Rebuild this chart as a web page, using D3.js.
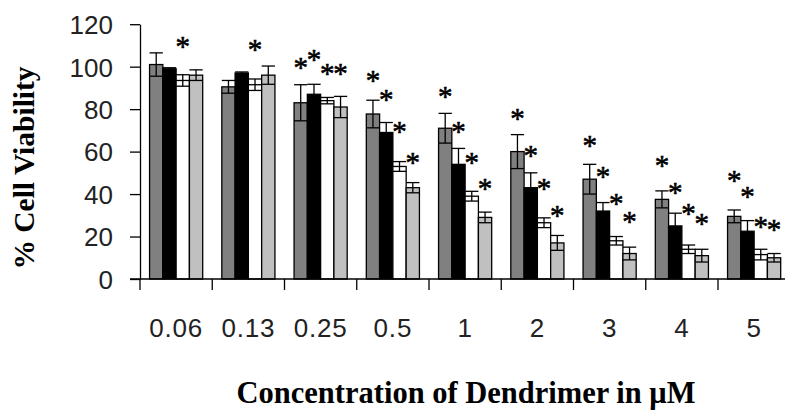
<!DOCTYPE html>
<html>
<head>
<meta charset="utf-8">
<script src="https://cdn.jsdelivr.net/npm/d3@7"></script>
<style>
  html, body { margin: 0; padding: 0; background: #fff; }
  svg { display: block; }
</style>
</head>
<body>
<svg id="chart" width="785" height="413"></svg>
<script>
// ---- data ----
const categories = ["0.06", "0.13", "0.25", "0.5", "1", "2", "3", "4", "5"];
const seriesNames = ["s1", "s2", "s3", "s4"];
const seriesColors = ["#808080", "#000000", "#ffffff", "#c0c0c0"];

const darkGray      = [101, 90.5, 83, 77.7, 71, 60, 47, 37.5, 29.5];
const darkGrayErr   = [5.5, 3, 8.5, 6.5, 7, 8, 7, 4, 3];
const black         = [99, 97, 87, 69, 54, 43, 32, 25, 22.5];
const blackErr      = [0.5, 0.5, 4.7, 4.7, 7.5, 7, 4, 6, 5];
const white         = [93.5, 91.5, 84, 53, 39, 26.5, 18, 14, 11.5];
const whiteErr      = [2.7, 2.7, 1.5, 2.3, 2.3, 2.3, 2, 2, 2.5];
const lightGray     = [96, 96, 81, 43, 29, 17, 12, 11, 10];
const lightGrayErr  = [2.5, 4.3, 5, 2.4, 2.5, 3.5, 3, 3, 2];

// asterisk (significance) marker positions, in axis units; null = none
const sigDark  = [null, null, 101.4, 95.3, 88.1, 77.7, 64.6, 55.2, 48.4];
const sigBlack = [null, null, 105.3, 86.4, 71.2, 59.9, 50.4, 42.9, 41.0];
const sigWhite = [111.6, 110.0, 98.6, 71.2, 57.0, 44.8, 37.4, 32.7, 26.7];
const sigLight = [null, null, 98.6, 57.0, 44.8, 31.9, 28.8, 28.0, 25.2];

const yTicks = [0, 20, 40, 60, 80, 100, 120];
const xTitle = "Concentration of Dendrimer in \u03bcM";
const yTitle = "% Cell Viability";

// ---- build ----
const values = [darkGray, black, white, lightGray];
const errs = [darkGrayErr, blackErr, whiteErr, lightGrayErr];
const sigs = [sigDark, sigBlack, sigWhite, sigLight];

const svg = d3.select("#chart");
const plotLeft = 140, plotBottom = 279, plotTop = 24.2, step = 72.25;

const x0 = d3.scaleBand().domain(categories).range([plotLeft, plotLeft + step * categories.length]).padding(0);
const x1 = d3.scaleBand().domain(seriesNames).range([0, x0.bandwidth()]).paddingInner(0).paddingOuter(0.72);
const y = d3.scaleLinear().domain([0, 120]).range([plotBottom, plotTop]);

const records = [];
categories.forEach((c, i) => {
  seriesNames.forEach((s, j) => {
    records.push({ c, s, j, v: values[j][i], e: errs[j][i], sig: sigs[j][i] });
  });
});

const serif = "'Liberation Serif', 'Times New Roman', serif";
const sans = "'Liberation Sans', Arial, sans-serif";

// bars
svg.append("g").selectAll("rect").data(records).join("rect")
  .attr("x", d => x0(d.c) + x1(d.s))
  .attr("y", d => y(d.v))
  .attr("width", x1.bandwidth())
  .attr("height", d => y(0) - y(d.v))
  .attr("fill", d => seriesColors[d.j])
  .attr("stroke", "#000")
  .attr("stroke-width", 1.3);

// error bars
const eg = svg.append("g").attr("stroke", "#000").attr("stroke-width", 1.3).attr("fill", "none");
records.forEach(d => {
  const cx = x0(d.c) + x1(d.s) + x1.bandwidth() / 2;
  const hw = x1.bandwidth() / 2;
  eg.append("line").attr("x1", cx).attr("x2", cx).attr("y1", y(d.v + d.e)).attr("y2", y(d.v - d.e));
  eg.append("line").attr("x1", cx - hw).attr("x2", cx + hw).attr("y1", y(d.v + d.e)).attr("y2", y(d.v + d.e));
  eg.append("line").attr("x1", cx - hw).attr("x2", cx + hw).attr("y1", y(d.v - d.e)).attr("y2", y(d.v - d.e));
});

// asterisks
const astSize = 29;
svg.append("g").selectAll("text").data(records.filter(d => d.sig !== null)).join("text")
  .attr("x", d => x0(d.c) + x1(d.s) + x1.bandwidth() / 2)
  .attr("y", d => y(d.sig) + astSize * 0.47)
  .attr("text-anchor", "middle")
  .attr("font-family", serif)
  .attr("font-size", astSize)
  .attr("fill", "#000")
  .attr("stroke", "#000")
  .attr("stroke-width", 0.6)
  .text("*");

// y axis
const yAxis = d3.axisLeft(y).tickValues(yTicks).tickSize(10).tickPadding(17).tickSizeOuter(0);
const yg = svg.append("g").attr("transform", `translate(${plotLeft},0)`).call(yAxis);
yg.select(".domain").attr("stroke", "#000").attr("stroke-width", 1.3);
yg.selectAll(".tick line").attr("stroke", "#000").attr("stroke-width", 1.3);
yg.selectAll(".tick text").attr("font-family", sans).attr("font-size", 26).attr("fill", "#222").attr("dy", "0.36em");

// x axis (labels only; ticks at category boundaries)
const xAxis = d3.axisBottom(x0).tickSize(0).tickPadding(58).tickSizeOuter(0);
const xg = svg.append("g").attr("transform", `translate(0,${plotBottom})`).call(xAxis);
xg.select(".domain").remove();
xg.selectAll(".tick text").attr("font-family", sans).attr("font-size", 26)
  .attr("letter-spacing", 0.8).attr("fill", "#222").attr("dy", "0");
xg.append("line").attr("x1", plotLeft - 10).attr("x2", 785).attr("y1", 0).attr("y2", 0)
  .attr("stroke", "#000").attr("stroke-width", 1.3);
const bounds = categories.map(c => x0(c)).concat([x0(categories[categories.length - 1]) + x0.bandwidth()]);
xg.selectAll("line.bt").data(bounds).join("line").attr("class", "bt")
  .attr("x1", d => d).attr("x2", d => d).attr("y1", 0).attr("y2", 11)
  .attr("stroke", "#000").attr("stroke-width", 1.3);

// titles
svg.append("text")
  .attr("x", 466).attr("y", 403)
  .attr("text-anchor", "middle")
  .attr("font-family", serif).attr("font-weight", "bold").attr("font-size", 30.5)
  .text(xTitle);

svg.append("text")
  .attr("transform", "translate(34,168) rotate(-90)")
  .attr("text-anchor", "middle")
  .attr("font-family", serif).attr("font-weight", "bold").attr("font-size", 29.5)
  .text(yTitle);
</script>
</body>
</html>
